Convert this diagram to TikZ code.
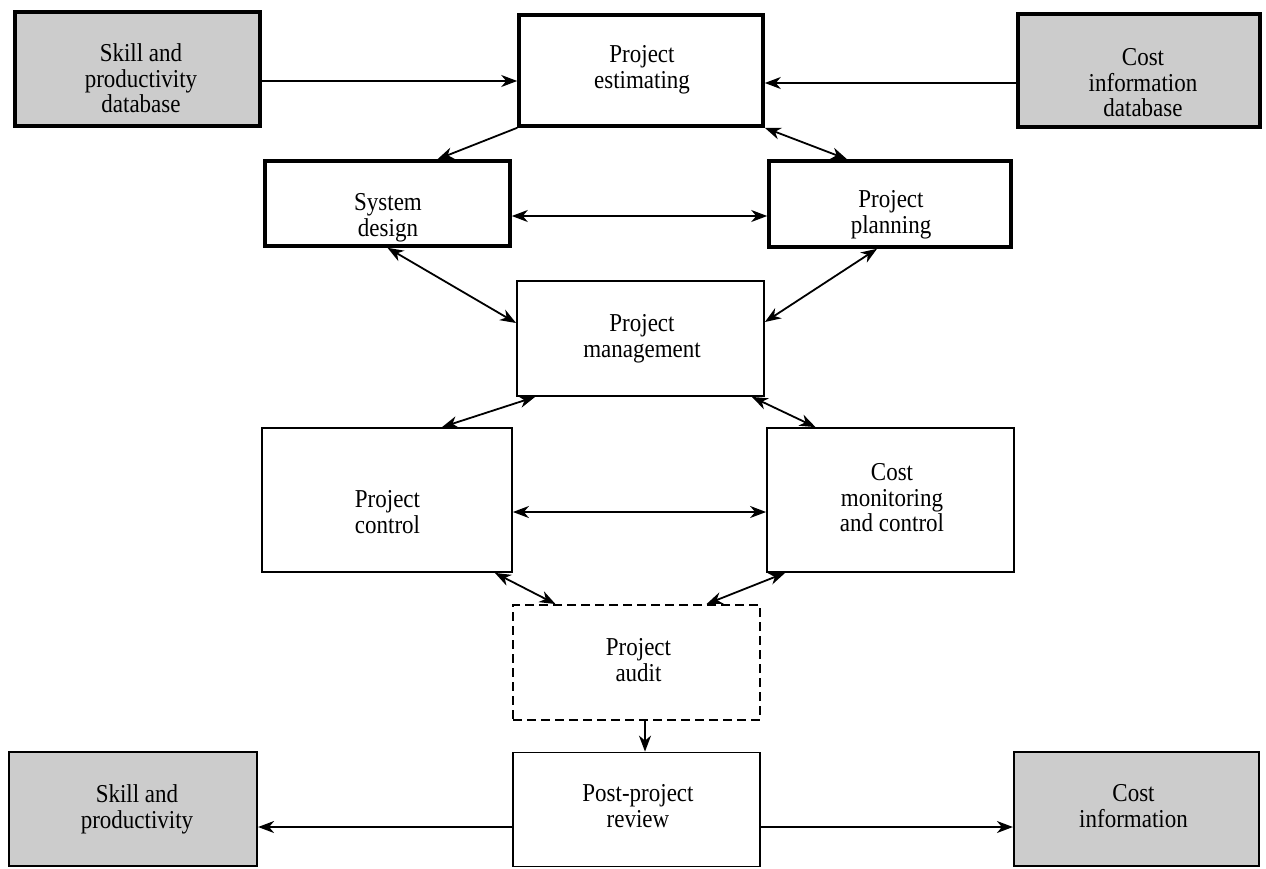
\documentclass[tikz,border=0pt]{standalone}
\usepackage{fontspec}
\setmainfont{Liberation Serif}
\usepackage{graphicx}
\usetikzlibrary{arrows.meta,calc}

% centred, slightly tall box caption
\newcommand{\boxtext}[1]{\scalebox{1}[1.12]{\begin{tabular}{@{}c@{}}#1\end{tabular}}}

\begin{document}
\begin{tikzpicture}[x=1pt,y=-1pt,
  heavybox/.style={draw, line width=3.6pt, inner sep=0pt},
  lightbox/.style={draw, line width=1.8pt, inner sep=0pt},
  dbfill/.style={fill=black!20},
  auditbox/.style={draw, line width=1.9pt, dash pattern=on 9pt off 5pt, inner sep=0pt},
  boxlabel/.style={inner sep=0pt, font=\fontsize{23}{23}\selectfont},
  tip/.tip={Stealth[length=16pt,width=12pt,inset=5pt]},
  link/.style={line width=1.8pt, -tip},
  duplex/.style={line width=1.8pt, tip-tip}
]
\useasboundingbox (0,0) rectangle (1266,868);

% ---- boxes ----
\node[heavybox, dbfill, minimum width=245pt, minimum height=114pt] (skilldb) at (137.5,69) {};
\node[heavybox, minimum width=244pt, minimum height=111pt] (est) at (641,70.5) {};
\node[heavybox, dbfill, minimum width=242pt, minimum height=113pt] (costdb) at (1139,70.5) {};
\node[heavybox, minimum width=245pt, minimum height=85pt] (sysdes) at (387.5,203.5) {};
\node[heavybox, minimum width=242pt, minimum height=86pt] (plan) at (890,204) {};
\node[lightbox, minimum width=247pt, minimum height=115pt] (pm) at (640.5,338.5) {};
\node[lightbox, minimum width=250pt, minimum height=144pt] (pc) at (387,500) {};
\node[lightbox, minimum width=247pt, minimum height=144pt] (cm) at (890.5,500) {};
\node[auditbox, minimum width=247pt, minimum height=115pt] (audit) at (636.5,662.5) {};
\node[lightbox, minimum width=247pt, minimum height=114pt] (review) at (636.5,809.5) {};
\node[lightbox, dbfill, line width=2.2pt, minimum width=248pt, minimum height=114pt] (skill) at (133,809) {};
\node[lightbox, dbfill, line width=2.2pt, minimum width=245pt, minimum height=114pt] (costinfo) at (1136.5,809) {};

% ---- captions ----
\node[boxlabel] (skilldb-t) at (141,82) {\boxtext{Skill and\\productivity\\database}};
\node[boxlabel] (est-t) at (642,70) {\boxtext{Project\\estimating}};
\node[boxlabel] (costdb-t) at (1143,86) {\boxtext{Cost\\information\\database}};
\node[boxlabel] (sysdes-t) at (388,218) {\boxtext{System\\design}};
\node[boxlabel] (plan-t) at (891,215) {\boxtext{Project\\planning}};
\node[boxlabel] (pm-t) at (642,339) {\boxtext{Project\\management}};
\node[boxlabel] (pc-t) at (387.5,515) {\boxtext{Project\\control}};
\node[boxlabel] (cm-t) at (892,501) {\boxtext{Cost\\monitoring\\and control}};
\node[boxlabel] (audit-t) at (638.5,663) {\boxtext{Project\\audit}};
\node[boxlabel] (review-t) at (638,809) {\boxtext{Post-project\\review}};
\node[boxlabel] (skill-t) at (137,810) {\boxtext{Skill and\\productivity}};
\node[boxlabel] (costinfo-t) at (1133.5,809) {\boxtext{Cost\\information}};

% ---- connectors ----
\coordinate (c1) at ($(skilldb.east)+(0,12)$);
\draw[link] (c1) -- (c1 -| est.west);
\coordinate (c2) at ($(costdb.west)+(0,12.5)$);
\draw[link] (c2) -- (c2 -| est.east);
\draw[link] (est.south west) -- ($(sysdes.north)+(50,0)$);
\draw[duplex] (est.south east) -- ($(plan.north)+(-43,0)$);
\coordinate (c5) at ($(sysdes.east)+(0,12.5)$);
\draw[duplex] (c5) -- (c5 -| plan.west);
\draw[duplex] (sysdes.south) -- ($(pm.west)+(0,-15.5)$);
\draw[duplex] ($(plan.south)+(-13,0)$) -- ($(pm.east)+(0,-16.5)$);
\draw[duplex] ($(pm.south west)+(19,0)$) -- ($(pc.north)+(55,0)$);
\draw[duplex] ($(pm.south east)+(-13,0)$) -- ($(cm.north)+(-75,0)$);
\coordinate (c10) at ($(pc.east)+(0,12)$);
\draw[duplex] (c10) -- (c10 -| cm.west);
\draw[duplex] ($(pc.south east)+(-18,0)$) -- ($(audit.north)+(-81,0)$);
\draw[duplex] ($(cm.south west)+(19,0)$) -- ($(audit.north)+(70,0)$);
\coordinate (c13) at ($(audit.south)+(8.5,0)$);
\draw[link] (c13) -- (c13 |- review.north);
\coordinate (c14) at ($(review.west)+(0,17.5)$);
\draw[link] (c14) -- (c14 -| skill.east);
\coordinate (c15) at ($(review.east)+(0,17.5)$);
\draw[link] (c15) -- (c15 -| costinfo.west);
\end{tikzpicture}
\end{document}
